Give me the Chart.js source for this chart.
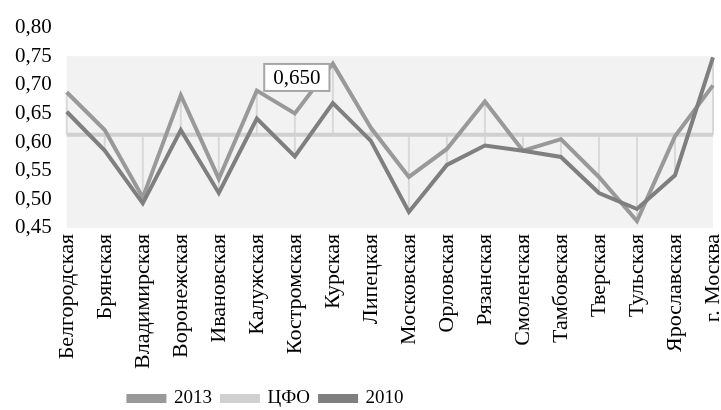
<!DOCTYPE html>
<html>
<head>
<meta charset="utf-8">
<script src="https://cdn.jsdelivr.net/npm/chart.js@4/dist/chart.umd.min.js"></script>
<style>
  html, body { margin: 0; padding: 0; background: #fff; }
  #wrap { width: 721px; height: 410px; }
</style>
</head>
<body>
<div id="wrap"><canvas id="chart" width="721" height="410"></canvas></div>
<script>
// регионы ЦФО
const regions = ['Белгородская', 'Брянская', 'Владимирская', 'Воронежская', 'Ивановская',
  'Калужская', 'Костромская', 'Курская', 'Липецкая', 'Московская', 'Орловская',
  'Рязанская', 'Смоленская', 'Тамбовская', 'Тверская', 'Тульская', 'Ярославская', 'г. Москва'];

// значения по годам
const values2013 = [0.687, 0.621, 0.503, 0.682, 0.536, 0.690, 0.650, 0.737, 0.625, 0.539,
  0.588, 0.671, 0.585, 0.605, 0.539, 0.462, 0.610, 0.699];
const values2010 = [0.653, 0.585, 0.493, 0.621, 0.511, 0.641, 0.575, 0.668, 0.602, 0.478,
  0.560, 0.594, 0.585, 0.574, 0.511, 0.483, 0.542, 0.748];
const valuesCFO = regions.map(() => 0.613);

// шкала Y
const yTicks = [0.45, 0.50, 0.55, 0.60, 0.65, 0.70, 0.75, 0.80];

// подпись данных (Костромская, 2013)
const labelIndex = 6;

const serif = "'Liberation Serif', 'Times New Roman', serif";

// фон области построения и линии high-low
const plotDecor = {
    id: 'plotDecor',
    beforeDatasetsDraw(chart) {
        const { ctx, chartArea, scales: { x, y } } = chart;
        ctx.save();
        const top = y.getPixelForValue(0.75);
        ctx.fillStyle = '#f2f2f2';
        ctx.fillRect(chartArea.left, top, chartArea.right - chartArea.left, chartArea.bottom - top);

        ctx.strokeStyle = '#d9d9d9';
        ctx.lineWidth = 2;
        regions.forEach((r, i) => {
            const vals = [values2013[i], values2010[i], valuesCFO[i]];
            const px = x.getPixelForValue(i);
            ctx.beginPath();
            ctx.moveTo(px, y.getPixelForValue(Math.max(...vals)));
            ctx.lineTo(px, y.getPixelForValue(Math.min(...vals)));
            ctx.stroke();
        });
        ctx.restore();
    },
    afterDatasetsDraw(chart) {
        const { ctx, scales: { x, y } } = chart;
        const v = values2013[labelIndex];
        const px = x.getPixelForValue(labelIndex) + 2;
        const py = y.getPixelForValue(v) - 36;
        const text = v.toFixed(3).replace('.', ',');
        ctx.save();
        ctx.font = '21px ' + serif;
        const w = ctx.measureText(text).width + 18;
        const h = 27;
        ctx.fillStyle = '#fff';
        ctx.fillRect(px - w / 2, py - h / 2, w, h);
        ctx.strokeStyle = '#a6a6a6';
        ctx.lineWidth = 2;
        ctx.strokeRect(px - w / 2, py - h / 2, w, h);
        ctx.fillStyle = '#000';
        ctx.textAlign = 'center';
        ctx.textBaseline = 'middle';
        ctx.fillText(text, px, py + 1);
        ctx.restore();
    },
    afterLayout(chart) {
        // легенда смещена влево и чуть ниже, как в оригинале
        const lg = chart.legend;
        if (lg) {
            lg.left = 0;
            lg.right = 532;
            lg.top += 4;
            lg.bottom += 4;
        }
    }
};

new Chart(document.getElementById('chart'), {
    type: 'line',
    data: {
        labels: regions,
        datasets: [
            {
                label: '2013',
                data: values2013,
                borderColor: '#999999',
                backgroundColor: '#999999',
                borderWidth: 4,
                pointRadius: 0,
                tension: 0,
                order: 1
            },
            {
                label: 'ЦФО',
                data: valuesCFO,
                borderColor: '#d0d0d0',
                backgroundColor: '#d0d0d0',
                borderWidth: 4,
                pointRadius: 0,
                order: 2
            },
            {
                label: '2010',
                data: values2010,
                borderColor: '#7f7f7f',
                backgroundColor: '#7f7f7f',
                borderWidth: 4,
                pointRadius: 0,
                tension: 0,
                order: 0
            }
        ]
    },
    options: {
        responsive: false,
        animation: false,
        layout: { padding: { left: 0, right: 8, top: -9, bottom: 0 } },
        scales: {
            x: {
                offset: false,
                grid: { display: false, drawTicks: false },
                border: { display: false },
                afterFit(axis) {
                    // последняя подпись не должна сужать область построения
                    axis.paddingRight = 0;
                },
                ticks: {
                    color: '#000',
                    font: { family: serif, size: 22 },
                    minRotation: 90,
                    maxRotation: 90,
                    autoSkip: false,
                    padding: 6
                }
            },
            y: {
                min: yTicks[0],
                max: yTicks[yTicks.length - 1],
                grid: { display: false, drawTicks: false },
                border: { display: false },
                afterBuildTicks(axis) {
                    axis.ticks = yTicks.map(v => ({ value: v }));
                },
                ticks: {
                    color: '#000',
                    font: { family: serif, size: 21 },
                    padding: 15,
                    autoSkip: false,
                    callback: v => v.toFixed(2).replace('.', ',')
                }
            }
        },
        plugins: {
            legend: {
                position: 'bottom',
                maxHeight: 35,
                labels: {
                    color: '#000',
                    font: { family: serif, size: 19 },
                    boxWidth: 36,
                    boxHeight: 5,
                    padding: 10,
                    sort: (a, b) => a.datasetIndex - b.datasetIndex
                }
            },
            tooltip: { enabled: false }
        }
    },
    plugins: [plotDecor]
});
</script>
</body>
</html>
